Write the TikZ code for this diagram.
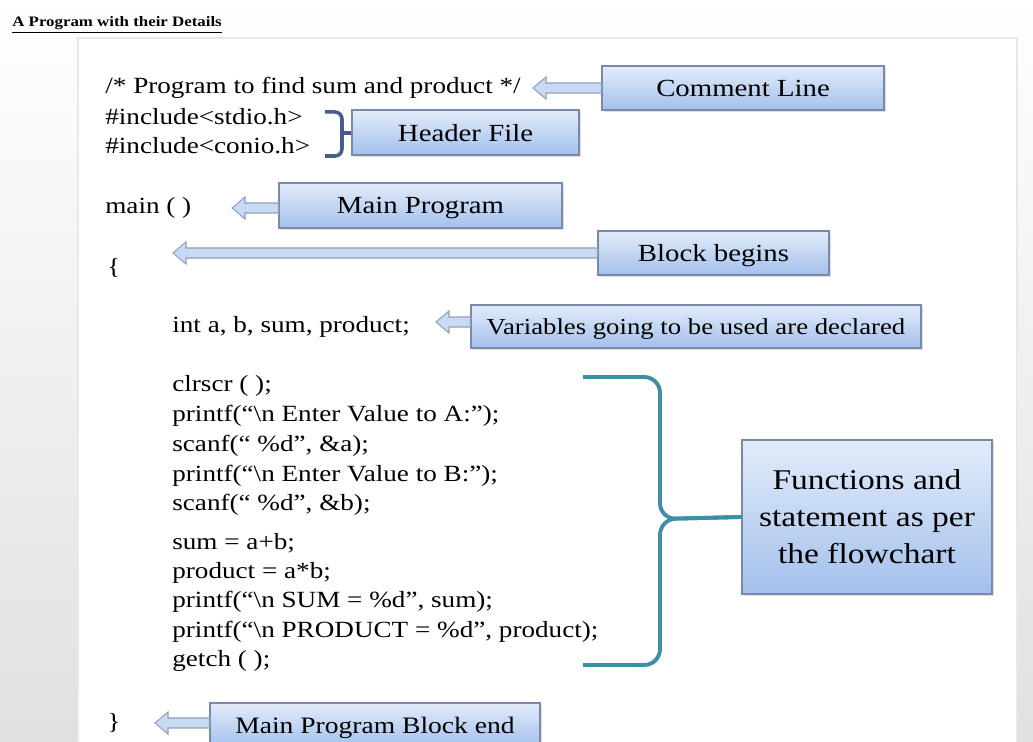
\documentclass[tikz,border=0pt]{standalone}
\usepackage{fontspec}
\setmainfont{Liberation Serif}[FakeStretch=1.17]
\usepackage{tikz}
\usetikzlibrary{calc,positioning,shadows}
\definecolor{boxtop}{RGB}{226,236,250}
\definecolor{boxbot}{RGB}{163,192,236}
\definecolor{boxline}{RGB}{120,138,168}
\definecolor{arrowfill}{RGB}{200,218,244}
\definecolor{bracketteal}{RGB}{62,142,165}
\definecolor{bracketnavy}{RGB}{70,92,138}
\definecolor{pageline}{RGB}{232,232,232}
% left-pointing block arrow from a box to a coordinate
\newcommand{\blockarrow}[2]{%
  \path[barrow] ($(#1)+(0,5)$) -- ($(#2)+(13,5)$) -- ($(#2)+(13,11)$)
    -- (#2) -- ($(#2)+(13,-11)$) -- ($(#2)+(13,-5)$)
    -- ($(#1)+(0,-5)$) -- cycle;}
\tikzset{
  code/.style={anchor=west, inner sep=0pt, font=\fontsize{13.2}{16}\selectfont},
  label/.style={draw=boxline, line width=0.6pt, top color=boxtop,
                bottom color=boxbot, inner sep=2pt, align=center,
                font=\fontsize{14}{17}\selectfont,
                drop shadow={shadow xshift=1.2pt, shadow yshift=-1.2pt, opacity=0.25}},
  tag/.style={label, text depth=0pt},
  barrow/.style={draw=boxline!80, line width=0.6pt, fill=arrowfill},
  brace/.style={draw=bracketteal, line width=2.2pt, rounded corners=9pt},
}
\begin{document}
\begin{tikzpicture}[x=0.2mm,y=-0.2mm]
  \useasboundingbox (0,0) rectangle (1033,742);
  \shade[top color=white, bottom color=black!12] (0,0) rectangle (1033,742);
  \fill[white] (78,38) rectangle (1017,742);
  \draw[pageline, line width=1pt] (78,742) -- (78,38) -- (1017,38) -- (1017,742);

  \node[anchor=west, inner sep=0pt, font=\fontsize{8.2}{10}\selectfont\bfseries]
    (title) at (12,25) {\underline{A Program with their Details}};

  % program text
  \node[code] (cmt) at (105,88) {/* Program to find sum and product */};
  \node[code] (inc1) at (105,117) {\#include<stdio.h>};
  \node[code] (inc2) at (105,146) {\#include<conio.h>};
  \node[code] (main) at (105,208) {main ( )};
  \node[code] (open) at (107,268) {\{};
  \node[code] (decl) at (172,327) {int a, b, sum, product;};
  \node[code] (l1) at (172,386) {clrscr ( );};
  \node[code] (l2) at (172,416) {printf(“\textbackslash n Enter Value to A:”);};
  \node[code] (l3) at (172,446) {scanf(“ \%d”, \&a);};
  \node[code] (l4) at (172,476) {printf(“\textbackslash n Enter Value to B:”);};
  \node[code] (l5) at (172,505) {scanf(“ \%d”, \&b);};
  \node[code] (l6) at (172,543) {sum = a+b;};
  \node[code] (l7) at (172,573) {product = a*b;};
  \node[code] (l8) at (172,602) {printf(“\textbackslash n SUM = \%d”, sum);};
  \node[code] (l9) at (172,632) {printf(“\textbackslash n PRODUCT = \%d”, product);};
  \node[code] (l10) at (172,661) {getch ( );};
  \node[code] (close) at (107,723) {\}};

  % labels
  \node[tag, minimum width={282*0.2mm}, minimum height={44*0.2mm}]
    (cmtbox) at (743,88) {Comment Line};
  \node[tag, minimum width={227*0.2mm}, minimum height={45*0.2mm}]
    (hdrbox) at (465.5,132.5) {Header File};
  \node[tag, minimum width={283*0.2mm}, minimum height={45*0.2mm}]
    (mainbox) at (420.5,205.5) {Main Program};
  \node[tag, minimum width={231*0.2mm}, minimum height={44*0.2mm}]
    (beginbox) at (713.5,253) {Block begins};
  \node[tag, minimum width={450*0.2mm}, minimum height={43*0.2mm}, font=\fontsize{13}{16}\selectfont]
    (declbox) at (696,326.5) {Variables going to be used are declared};
  \node[label, minimum width={250*0.2mm}, minimum height={154*0.2mm}, font=\fontsize{16.3}{21}\selectfont]
    (fnbox) at (867,517) {Functions and\\statement as per\\the flowchart};
  \node[tag, minimum width={330*0.2mm}, minimum height={44*0.2mm}, font=\fontsize{13.4}{16}\selectfont]
    (endbox) at (375,725) {Main Program Block end};

  % arrows
  \coordinate (cmttip) at (533,88);
  \coordinate (maintip) at (232,208);
  \coordinate (begintip) at (173,253);
  \coordinate (decltip) at (436,322);
  \coordinate (endtip) at (155,723);
  \blockarrow{cmtbox.west}{cmttip}
  \blockarrow{mainbox.west |- maintip}{maintip}
  \blockarrow{beginbox.west}{begintip}
  \blockarrow{declbox.west |- decltip}{decltip}
  \blockarrow{endbox.west |- endtip}{endtip}

  % brackets
  \draw[brace, draw=bracketnavy, line width=2pt, rounded corners=4pt]
    (325,112) -- (342,112) -- (342,156) -- (325,156);
  \draw[bracketnavy, line width=2pt] (342,133) -- (hdrbox.west |- 342,133);
  \draw[brace] (583,377) -- (660,377) -- (660,519) -- (fnbox.west);
  \draw[brace] (583,665) -- (660,665) -- (660,519) -- (fnbox.west);
\end{tikzpicture}
\end{document}
